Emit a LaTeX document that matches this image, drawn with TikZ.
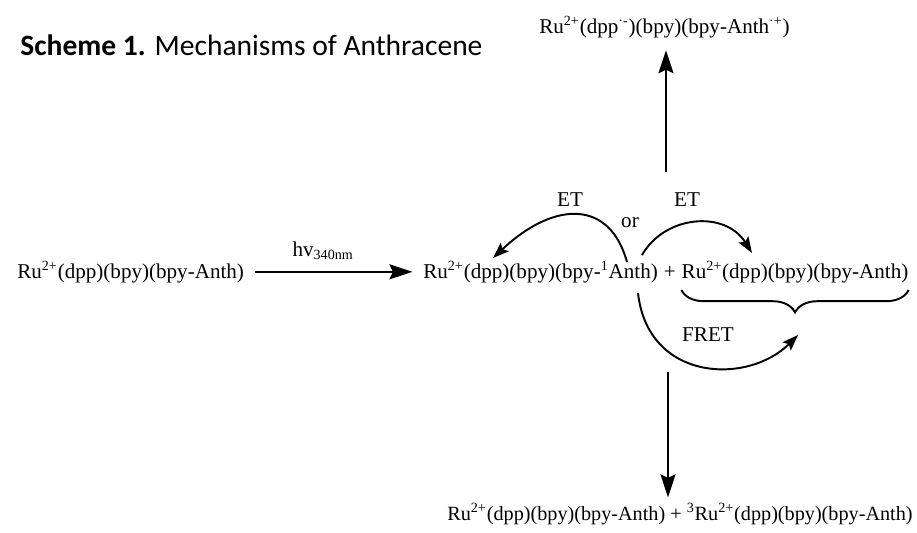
\documentclass[tikz,border=0pt]{standalone}
\usepackage{fontspec}
\setmainfont{Liberation Serif}
\newfontfamily\titlefont{Carlito}
\usetikzlibrary{arrows.meta,positioning,decorations.pathreplacing}

\tikzset{
  chem/.style={font=\fontsize{12}{14}\selectfont, inner sep=0pt},
  lbl/.style={font=\fontsize{12}{14}\selectfont, inner sep=0pt},
  bigarrow/.style={line width=1.3pt, -{Stealth[length=4.6mm,width=3mm,inset=0.7mm]}},
  bendarrow/.style={line width=1.1pt, -{Stealth[length=3.2mm,width=2.3mm,inset=0.6mm]}},
  bracket/.style={line width=1.1pt, decorate, decoration={brace,mirror,amplitude=0.45cm}}
}

\begin{document}
\begin{tikzpicture}[x=0.02cm, y=-0.02cm]
            \useasboundingbox (0,0) rectangle (917,532);
            % ==== TITLE ====
            \node[anchor=base west, inner sep=0pt, font=\titlefont\fontsize{16.8}{20}\selectfont] (title) at (20,55)
                {\textbf{Scheme 1.} Mechanisms of Anthracene};
            % ==== SPECIES ====
            \node[chem, anchor=base west] (top) at (539,33)
                {Ru\textsuperscript{2+}(dpp\textsuperscript{·-})(bpy)(bpy-Anth\textsuperscript{·+})};
            \node[chem, anchor=base west] (start) at (17,278)
                {Ru\textsuperscript{2+}(dpp)(bpy)(bpy-Anth)};
            \node[chem, anchor=base west] (excited) at (423,278)
                {Ru\textsuperscript{2+}(dpp)(bpy)(bpy-\textsuperscript{1}Anth)};
            \node[chem, base right=0.3em of excited] (plus) {+};
            \node[chem, base right=0.3em of plus] (partner)
                {Ru\textsuperscript{2+}(dpp)(bpy)(bpy-Anth)};
            \node[chem, font=\fontsize{11.5}{14}\selectfont, anchor=base east] (bottom) at (913,520)
                {Ru\textsuperscript{2+}(dpp)(bpy)(bpy-Anth) + \textsuperscript{3}Ru\textsuperscript{2+}(dpp)(bpy)(bpy-Anth)};

            % ==== EXCITATION ====
            \draw[bigarrow, shorten <=6pt, shorten >=6pt] (start) -- node[lbl, above=6pt, xshift=-6pt] (hv) {hv\textsubscript{340nm}} (excited);

            % ==== ET / FRET ====
            \coordinate (etLa) at (627,262);
            \coordinate (etLb) at (493,258);
            \coordinate (etRa) at (642,255);
            \coordinate (etRb) at (752,253);
            \coordinate (fretA) at (638,293);
            \coordinate (fretB) at (798,335);
            \draw[bendarrow] (etLa) .. controls (610,200) and (555,200) .. (etLb);
            \draw[bendarrow] (etRa) .. controls (665,215) and (725,210) .. (etRb);
            \draw[bendarrow] (fretA) .. controls (648,382) and (748,385) .. (fretB);
            \node[lbl] (etL) at (570,200) {ET};
            \node[lbl] (or) at (630,223) {or};
            \node[lbl] (etR) at (687,200) {ET};
            \node[lbl] (fret) at (708,335) {FRET};
            \draw[bracket] ([yshift=-4pt]partner.south west) -- ([yshift=-4pt]partner.south east);

            % ==== PRODUCTS ====
            \coordinate (upstart) at (666,172);
            \coordinate (downstart) at (668,372);
            \draw[bigarrow, shorten >=7pt] (upstart) -- (top.south -| upstart);
            \draw[bigarrow, shorten >=3pt] (downstart) -- (bottom.north -| downstart);
         \end{tikzpicture}
\end{document}
